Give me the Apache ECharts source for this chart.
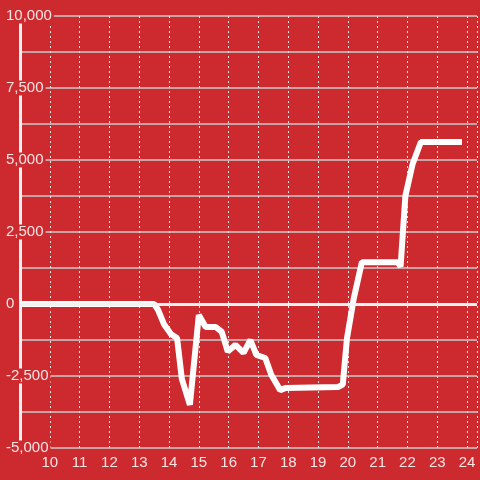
<!DOCTYPE html>
<html>
<head>
<meta charset="utf-8">
<script src="https://cdn.jsdelivr.net/npm/echarts@6/dist/echarts.min.js"></script>
<style>html,body{margin:0;padding:0;background:#cd2a2f;}#c{width:480px;height:480px;}</style>
</head>
<body>
<div id="c"></div>
<script>
const xValues = [9, 13.5, 13.63, 13.83, 14.07, 14.27, 14.43, 14.7, 15.0, 15.23, 15.57, 15.77, 15.97, 16.23, 16.5, 16.73, 16.93, 17.23, 17.43, 17.73, 17.9, 19.67, 19.83, 19.97, 20.2, 20.47, 21.67, 21.77, 21.93, 22.17, 22.45, 23.83];
const yValues = [0, 0, -200, -700, -1050, -1180, -2600, -3500, -380, -800, -800, -970, -1650, -1420, -1700, -1250, -1770, -1875, -2460, -2990, -2920, -2880, -2800, -1200, 200, 1450, 1450, 1300, 3750, 4850, 5625, 5625];
const yTicks = [-5000, -2500, 0, 2500, 5000, 7500, 10000];
const xTicks = [10, 11, 12, 13, 14, 15, 16, 17, 18, 19, 20, 21, 22, 23, 24];

const bg = '#cd2a2f';
const chart = echarts.init(document.getElementById('c'));
chart.setOption({
  backgroundColor: bg,
  animation: false,
  textStyle: { fontFamily: 'Liberation Sans' },
  grid: { left: 20, right: 0, top: 16, bottom: 32, containLabel: false },
  xAxis: {
    type: 'value',
    min: 9,
    max: 9 + 460 / 30,
    interval: 1,
    axisLine: { show: false },
    axisTick: { show: false },
    axisLabel: {
      color: 'rgba(255,255,255,0.88)',
      fontSize: 15,
      margin: 7,
      formatter: v => xTicks.includes(v) ? String(v) : ''
    },
    splitLine: { show: true, lineStyle: { color: '#e6e6e6', width: 1, type: [2, 3] } }
  },
  yAxis: {
    type: 'value',
    min: yTicks[0],
    max: yTicks[yTicks.length - 1],
    interval: 2500,
    axisLine: { show: true, lineStyle: { color: '#f2f2f2', width: 3 } },
    axisTick: { show: false },
    minorTick: { show: false, splitNumber: 2 },
    minorSplitLine: { show: true, lineStyle: { color: '#cccccc', width: 1.5 } },
    splitLine: { show: true, lineStyle: { color: '#cccccc', width: 1.5 } },
    axisLabel: {
      color: 'rgba(255,255,255,0.88)',
      fontSize: 15,
      align: 'left',
      margin: 14,
      backgroundColor: bg,
      padding: [0, 2, 0, 0],
      formatter: v => yTicks.includes(v) ? v.toLocaleString('en-US') : ''
    }
  },
  series: [{
    type: 'line',
    data: xValues.map((x, i) => [x, yValues[i]]),
    showSymbol: false,
    lineStyle: { color: '#ffffff', width: 6 },
    z: 3,
    markLine: {
      silent: true,
      symbol: 'none',
      label: { show: false },
      lineStyle: { color: '#f2f2f2', width: 3, type: 'solid' },
      data: [{ yAxis: 0 }]
    }
  }]
});
</script>
</body>
</html>
